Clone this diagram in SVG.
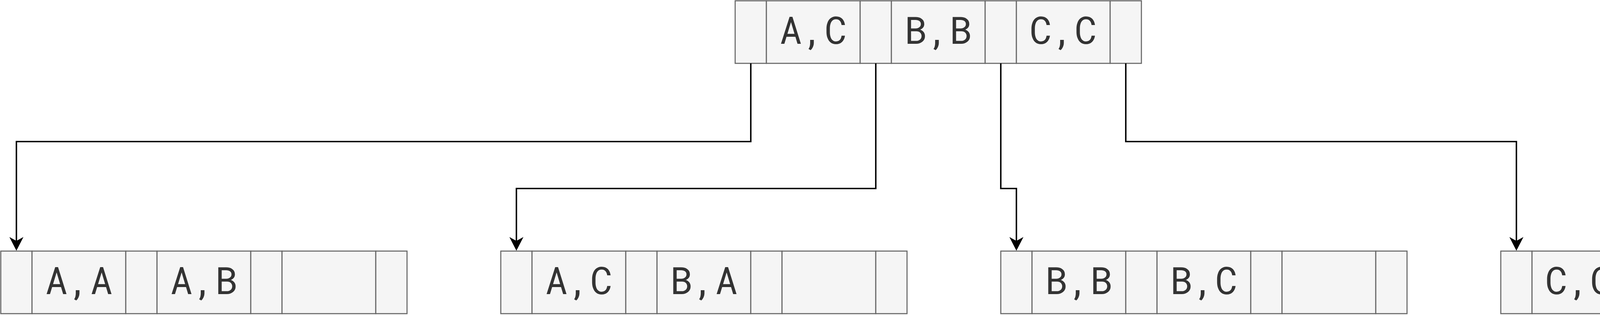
<svg xmlns="http://www.w3.org/2000/svg" width="4884" height="808" viewBox="0 0 4884 808">
  <style>
    .cell { fill: #f5f5f5; stroke: #666666; stroke-width: 2.7; }
    .lbl { font-family: "Roboto Mono", "DejaVu Sans Mono", "Liberation Mono", monospace; font-size: 96px; fill: #333333; text-anchor: middle; }
    .edge { fill: none; stroke: #000000; stroke-width: 3.7; }
  </style>
  <defs>
    <marker id="arrow" markerUnits="userSpaceOnUse" markerWidth="36" markerHeight="36" viewBox="0 0 36 36" refX="10" refY="18" orient="auto">
      <path d="M0,0 L35,18 L0,36 L10,18 Z" fill="#000000"/>
    </marker>
    <g id="node">
      <rect class="cell" x="0" y="0" width="80" height="160"/>
      <rect class="cell" x="80" y="0" width="240" height="160"/>
      <rect class="cell" x="320" y="0" width="80" height="160"/>
      <rect class="cell" x="400" y="0" width="240" height="160"/>
      <rect class="cell" x="640" y="0" width="80" height="160"/>
      <rect class="cell" x="720" y="0" width="240" height="160"/>
      <rect class="cell" x="960" y="0" width="80" height="160"/>
    </g>
  </defs>

  <g id="root-node">
    <use href="#node" x="1882" y="2"/>
    <text class="lbl" x="2082" y="112">A,C</text>
    <text class="lbl" x="2402" y="112">B,B</text>
    <text class="lbl" x="2722" y="112">C,C</text>
  </g>

  <g id="leaf-1">
    <use href="#node" x="2" y="642"/>
    <text class="lbl" x="202" y="752">A,A</text>
    <text class="lbl" x="522" y="752">A,B</text>
  </g>

  <g id="leaf-2">
    <use href="#node" x="1282" y="642"/>
    <text class="lbl" x="1482" y="752">A,C</text>
    <text class="lbl" x="1802" y="752">B,A</text>
  </g>

  <g id="leaf-3">
    <use href="#node" x="2562" y="642"/>
    <text class="lbl" x="2762" y="752">B,B</text>
    <text class="lbl" x="3082" y="752">B,C</text>
  </g>

  <g id="leaf-4">
    <use href="#node" x="3842" y="642"/>
    <text class="lbl" x="4042" y="752">C,C</text>
    <text class="lbl" x="4362" y="752">C,D</text>
  </g>

  <g id="connectors">
    <path class="edge" d="M1922,162 V362 H42 V616" marker-end="url(#arrow)"/>
    <path class="edge" d="M2242,162 V482 H1322 V616" marker-end="url(#arrow)"/>
    <path class="edge" d="M2562,162 V482 H2602 V616" marker-end="url(#arrow)"/>
    <path class="edge" d="M2882,162 V362 H3882 V616" marker-end="url(#arrow)"/>
  </g>
</svg>
